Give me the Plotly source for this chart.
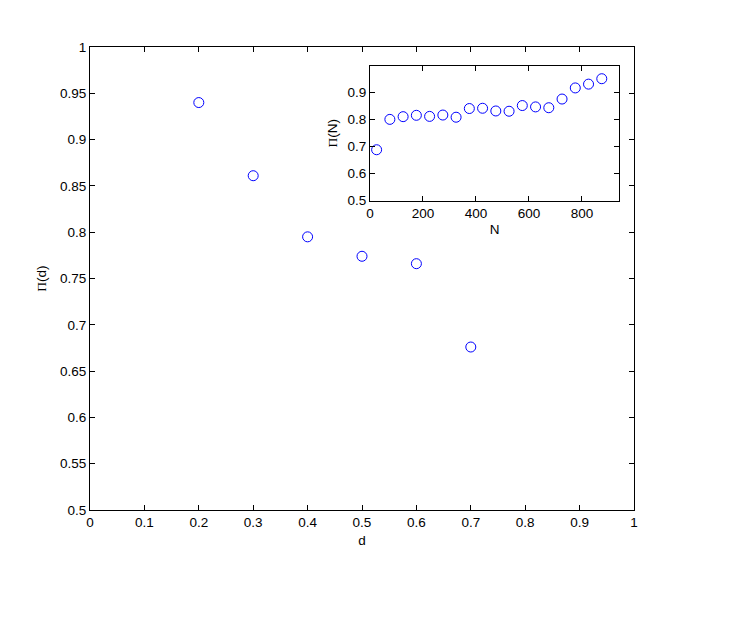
import plotly.graph_objects as go

# Main data
d_vals = [0.2, 0.3, 0.4, 0.5, 0.6, 0.7]
pi_d = [0.940, 0.861, 0.795, 0.774, 0.766, 0.676]

# Inset data
n_vals = [25, 75, 125, 175, 225, 275, 325, 375, 425, 475, 525, 575, 625, 675, 725, 775, 825, 875]
pi_n = [0.688, 0.800, 0.810, 0.815, 0.811, 0.816, 0.808, 0.840, 0.841, 0.831,
        0.830, 0.851, 0.846, 0.843, 0.875, 0.916, 0.930, 0.950]

main_xticks = [0, 0.1, 0.2, 0.3, 0.4, 0.5, 0.6, 0.7, 0.8, 0.9, 1]
main_xtext = ["0", "0.1", "0.2", "0.3", "0.4", "0.5", "0.6", "0.7", "0.8", "0.9", "1"]
main_yticks = [0.5, 0.55, 0.6, 0.65, 0.7, 0.75, 0.8, 0.85, 0.9, 0.95, 1]
main_ytext = ["0.5", "0.55", "0.6", "0.65", "0.7", "0.75", "0.8", "0.85", "0.9", "0.95", "1"]
inset_xticks = [0, 200, 400, 600, 800]
inset_yticks = [0.5, 0.6, 0.7, 0.8, 0.9]
inset_ytext = ["0.5", "0.6", "0.7", "0.8", "0.9"]

W, H = 747, 633
OFF = 8  # page body margin
FONT = "Liberation Sans, Arial, Helvetica, sans-serif"
FS = 13.5
BLUE = "rgb(0,0,255)"
PI = "<span style='font-family:Liberation Serif'>Π</span>"


def xd(a, b):
    return [(a - OFF) / W, (b - OFF) / W]


def yd(top, bottom):
    return [(H - (bottom - OFF)) / H, (H - (top - OFF)) / H]


fig = go.Figure()
fig.add_trace(go.Scatter(x=d_vals, y=pi_d, mode="markers", xaxis="x", yaxis="y",
                         marker=dict(symbol="circle-open", size=10, color=BLUE, line=dict(width=1, color=BLUE)),
                         showlegend=False))
fig.add_trace(go.Scatter(x=n_vals, y=pi_n, mode="markers", xaxis="x2", yaxis="y2",
                         marker=dict(symbol="circle-open", size=10, color=BLUE, line=dict(width=1, color=BLUE)),
                         showlegend=False))

axis_common = dict(showgrid=False, zeroline=False, showline=True, linecolor="black", linewidth=1,
                   mirror="ticks", ticks="inside", ticklen=5, tickcolor="black", automargin=False,
                   tickfont=dict(family=FONT, size=FS, color="black"))

fig.update_layout(
    width=W, height=H,
    margin=dict(l=0, r=0, t=0, b=0, autoexpand=False),
    paper_bgcolor="white", plot_bgcolor="white",
    font=dict(family=FONT, size=FS, color="black"),
    xaxis=dict(domain=xd(90, 634), range=[0, 1], anchor="y",
               tickvals=main_xticks, ticktext=main_xtext,
               title=dict(text="d", standoff=6, font=dict(family=FONT, size=FS)), **axis_common),
    yaxis=dict(domain=yd(47, 510), range=[0.5, 1], anchor="x",
               tickvals=main_yticks, ticktext=main_ytext,
               title=dict(text=PI + "(d)", standoff=10, font=dict(family=FONT, size=FS)), **axis_common),
    xaxis2=dict(domain=xd(370, 619), range=[0, 940], anchor="y2",
                tickvals=inset_xticks,
                title=dict(text="N", standoff=4, font=dict(family=FONT, size=FS)), **axis_common),
    yaxis2=dict(domain=yd(65.7, 200.7), range=[0.5, 0.998], anchor="x2",
                tickvals=inset_yticks, ticktext=inset_ytext,
                title=dict(text=PI + "(N)", standoff=6, font=dict(family=FONT, size=FS)), **axis_common),
)

fig.write_html("out.html")
